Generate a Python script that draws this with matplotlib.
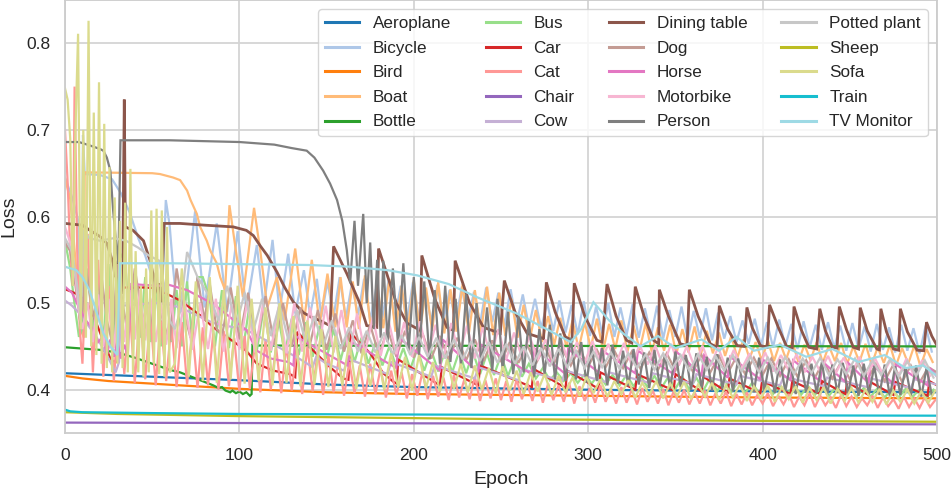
import numpy as np
import matplotlib
matplotlib.use("Agg")
import matplotlib.pyplot as plt

# ---------------- DATA (loss values in thousandths) ----------------
classes = ["Aeroplane", "Bicycle", "Bird", "Boat", "Bottle", "Bus", "Car", "Cat", "Chair", "Cow",
           "Dining table", "Dog", "Horse", "Motorbike", "Person", "Potted plant", "Sheep", "Sofa",
           "Train", "TV Monitor"]

x_ticks = [0, 100, 200, 300, 400, 500]
y_ticks = [0.4, 0.5, 0.6, 0.7, 0.8]

# knot series: (epoch, loss*1000)
aeroplane = [(0, 419), (25, 417), (50, 415), (100, 411), (150, 406), (200, 403), (300, 400), (400, 398), (500, 397)]
bird = [(0, 416), (10, 413), (25, 410), (50, 407), (66, 405), (100, 401), (150, 397), (200, 395), (300, 393), (400, 391), (500, 390)]
chair = [(0, 362), (100, 361.5), (250, 361), (500, 360)]
train = [(0, 377), (3, 375), (10, 374), (50, 373), (100, 372), (250, 371), (500, 370)]
sheep = [(0, 374), (30, 372), (100, 369.5), (250, 366), (400, 364), (500, 363)]
bottle = [(0, 449), (20, 446), (30, 443), (40, 437), (50, 430), (60, 423), (66, 420), (75, 413), (85, 405), (88, 402),
          (90, 403), (92, 399), (94.7, 397), (96, 399), (98, 396), (100, 398), (102, 395), (104, 397), (106, 393),
          (107, 395), (107.5, 453), (108.5, 451), (500, 450)]
tv_monitor = [(0, 542), (6.5, 538), (10, 530), (14, 515), (18, 490), (22, 465), (26, 450), (30, 440), (31.5, 546),
              (60, 546), (100, 545), (140, 544), (163.5, 542), (185, 538), (202, 532), (220, 522), (236, 507),
              (259, 488), (278, 468), (290, 455), (296, 470), (303, 501), (312, 480), (320, 465), (330, 450),
              (340, 462), (350, 448), (365, 458), (375, 445), (385, 461), (395, 445), (410, 452), (425, 438),
              (440, 447), (455, 432), (470, 440), (482, 425), (492, 428), (500, 416)]
car = [(0, 516), (4, 513), (8.4, 509), (14.2, 495), (18, 477), (21.8, 457), (25.6, 438), (27, 433), (30, 432),
       (31.4, 518), (45, 518), (54.5, 517), (56, 513), (62, 507), (66, 503), (77.5, 486), (85, 472), (104, 445),
       (110, 430), (119.5, 422), (129, 418), (132, 414.5), (133.3, 467), (142.4, 445), (152, 426), (159.5, 413),
       (162.5, 411.5), (164, 465), (175, 442), (182.5, 419), (188.4, 409), (190.3, 407), (191, 435), (215, 405),
       (216, 426), (237, 405), (238, 428), (267.7, 403), (268.7, 424), (287, 402), (288, 422), (306, 401),
       (307, 420), (327, 400), (328, 418), (349, 399), (350, 418), (365, 398), (366, 415), (380, 397), (381, 413),
       (398.7, 396), (399.7, 410), (416, 395), (417, 410), (433, 395), (434, 410), (447.5, 395), (448.5, 409),
       (460.7, 394), (461.7, 409), (475, 394), (476, 409), (494.6, 393), (495.6, 410), (500, 405)]
horse = [(0, 519), (4, 512), (8, 495), (12, 480), (16, 470), (19, 455), (22, 462), (24, 440), (26, 458), (28, 438),
         (30, 455), (32, 436), (34, 452), (36, 440), (38, 522), (45, 521), (55, 520), (58, 522), (70, 515),
         (85, 499), (104, 469), (110, 445), (118, 436), (123, 434), (128, 432), (131, 428), (132, 462), (162, 428),
         (164.5, 455), (190, 425), (191.5, 460), (215, 422), (216.5, 458), (237, 420), (238.5, 452), (267.7, 418),
         (269, 448), (287, 418), (288.5, 447), (306, 420), (307.5, 446), (327, 419), (328.5, 445), (349, 418),
         (350.5, 444), (365, 417), (366.5, 440), (380, 414), (381.5, 438), (398.7, 412), (400, 435), (416, 411),
         (417.5, 434), (433, 410), (434.5, 432), (447.5, 409), (449, 431), (460.7, 408), (462, 430), (475, 407),
         (476.5, 429), (494.6, 405), (496, 425), (500, 415)]
cow = [(0, 503), (4, 497), (8.4, 488), (13, 475), (18, 461), (23.5, 442), (27.5, 426), (29, 420), (31, 432),
       (32, 497), (40, 498), (50, 500), (56, 500), (66, 495), (85, 477), (104, 469), (119, 453), (135, 435),
       (142, 426), (144, 438), (150, 430), (160, 422), (162, 436), (185, 418), (187, 432), (210, 415), (212, 428),
       (235, 413), (237, 426), (260, 411), (262, 424), (285, 410), (287, 422), (310, 409), (312, 420), (335, 408),
       (337, 419), (360, 407), (362, 418), (385, 406), (387, 416), (410, 405), (412, 415), (435, 404), (437, 414),
       (460, 403), (462, 413), (485, 402), (487, 412), (500, 406)]
dining_table = [(0, 592), (10, 590), (14.3, 584), (20, 577), (24, 569), (27.6, 546), (28.7, 530), (30.3, 549),
                (31.6, 515), (33, 511), (34, 735), (34.6, 588), (39, 584), (45, 572), (48.8, 549), (51.6, 523),
                (53.5, 511), (54, 523), (55.3, 501), (56.8, 592), (66, 592), (80, 590), (96.5, 588), (104, 584),
                (108, 578), (112, 566), (116, 555), (121.5, 536), (126, 518), (131, 501), (136.7, 489), (141, 484),
                (146, 480), (152, 474), (154, 565.5), (161.6, 534), (169, 500), (173, 474), (178.8, 472),
                (179.8, 563), (190, 500), (196, 477), (203.7, 468.5), (204.6, 555), (212, 505), (219, 472),
                (222.7, 468.5), (223.7, 549), (232, 500), (240, 472), (249.6, 465), (251.9, 526), (258, 490),
                (265, 465), (274.4, 459), (276, 524), (281, 490), (286.9, 461), (290.7, 457), (292, 523),
                (298, 485), (305, 457), (308, 455), (310.8, 522), (316, 485), (322, 457), (325, 454), (327, 519),
                (332, 485), (337.5, 457), (340.4, 453), (340.8, 515.5), (346, 485), (352.8, 453), (356.7, 451),
                (358, 515.5), (363, 485), (370, 453), (373.9, 449), (375.2, 497), (380, 470), (385.4, 451),
                (389.5, 450), (391, 495), (394, 472), (398.7, 451), (402.6, 449), (404, 498), (409, 472),
                (414, 449), (417, 448), (418, 496), (422, 470), (426.5, 449), (431, 447), (432.8, 493.5),
                (436, 468), (440, 449), (442.7, 448), (444, 496), (448, 470), (452, 449), (455, 447), (456, 494.7),
                (460, 468), (465.5, 447), (467, 446), (467.8, 493.5), (471, 467), (475, 447), (478, 445.6),
                (479, 493.5), (483, 467), (488.6, 445.6), (492.4, 445), (494, 478), (497, 462), (500, 451)]

# oscillating series: explicit head knots + alternating extremes read at a regular epoch spacing
person_head = [(0, 686), (8, 686), (14.3, 682), (20, 678), (22, 676), (24, 668), (26, 653), (27.6, 607), (29.7, 561),
               (30.6, 546), (31.8, 688), (60, 688), (100, 686), (120, 683), (130, 679), (138.6, 676), (143, 668),
               (148, 653), (152, 638), (156, 619), (159, 595), (161.6, 561), (163.5, 523), (166, 595), (168, 520),
               (171, 603), (173, 500), (175, 570), (177, 470), (179, 550), (181, 460), (182.5, 549)]
person_osc = (185, 3, [455, 540, 450, 546, 445, 530,
                       440, 525, 435, 515, 430, 520, 432, 505, 428, 510,
                       425, 500, 428, 495, 422, 505, 420, 490, 418, 485,
                       420, 480, 415, 470, 418, 475, 412, 465, 410, 460,
                       412, 455, 408, 450, 410, 448, 405, 452, 407, 445,
                       404, 447, 406, 443, 402, 446, 404, 440, 401, 444,
                       403, 440, 400, 442, 402, 438, 399, 441, 401, 437,
                       398, 436, 400, 434, 397, 437, 399, 432, 396, 435,
                       398, 431, 395, 433, 397, 430, 396, 432, 394, 429,
                       396, 431, 395, 428, 393, 430, 395, 427, 394, 429,
                       392, 427, 394, 426, 393, 428, 392, 425, 394])

cat_head = [(0, 700), (1.5, 640), (3, 560), (4.5, 520), (5.5, 750), (7, 560), (8.5, 470)]
cat_osc = (10, 3, [430, 580, 420, 550, 415, 520, 410, 500, 418, 495,
                   408, 490, 412, 485, 405, 480, 410, 475, 403, 478,
                   406, 470, 402, 472, 405, 465, 400, 468, 404, 460,
                   398, 462, 401, 455, 397, 458, 400, 450, 396, 452,
                   399, 448, 395, 450, 398, 445, 394, 440, 397, 436,
                   393, 432, 396, 428, 392, 430, 395, 425, 391, 422,
                   394, 420, 390, 418, 393, 421, 389, 416, 392, 414,
                   388, 417, 391, 412, 389, 415, 387, 411, 390, 413,
                   388, 410, 386, 412, 389, 408, 387, 410, 385, 407,
                   388, 405, 386, 408, 384, 404, 387, 402, 385, 405,
                   386, 401, 384, 403, 385, 400, 383, 402, 386, 399,
                   384, 401, 382, 398, 385, 400, 383, 397, 384, 399,
                   382, 396, 384, 398, 381, 395, 383, 397, 382, 394,
                   384, 396, 381, 393, 383, 395, 380, 392, 382, 396,
                   380, 393, 382, 391, 379, 394, 381, 392, 380, 390,
                   382, 393, 379, 391, 381, 389, 378, 392, 380, 390,
                   379, 391, 380, 388])

sofa_head = [(0, 748), (1.5, 735), (3, 690), (4.5, 520), (6, 700), (7.5, 811), (9, 470), (10.5, 700), (12, 460),
             (13.5, 826), (15, 450), (16.5, 720), (18, 440), (19.5, 755), (21, 430), (22.5, 707), (24, 425),
             (25.5, 657), (27, 420), (28.5, 622), (30, 430), (31.5, 595), (33, 425), (34.5, 616), (36, 420),
             (37.5, 655), (39, 418), (40.5, 560), (42, 420), (43.5, 520), (45, 415), (46.5, 540), (48, 420),
             (49.5, 607), (51, 430), (52.5, 609), (54, 418), (55.5, 607), (57, 415), (58.5, 588), (60, 420)]
sofa_osc = (63, 4, [430, 540, 415, 525, 410, 530, 408, 515, 412, 520,
                    407, 505, 410, 495, 405, 500, 408, 485, 404, 480,
                    406, 470, 403, 462, 405, 455, 401, 448, 404, 445,
                    400, 442, 403, 438, 399, 440, 402, 432, 398, 435,
                    401, 430, 397, 428, 400, 425, 396, 427, 399, 422,
                    395, 420, 398, 418, 394, 416, 397, 414, 393, 415,
                    396, 412, 392, 410, 395, 411, 391, 408, 394, 410,
                    390, 407, 393, 409, 389, 406, 392, 408, 388, 405,
                    391, 406, 387, 404, 390, 405, 386, 403, 389, 404,
                    385, 402, 388, 403, 384, 401, 387, 402, 385, 400,
                    386, 401, 383, 399, 386, 400, 384, 398, 385, 399])

bicycle_head = [(0, 645), (4.6, 619), (7.5, 596), (9.5, 470), (10.3, 694), (11.3, 649), (20, 648), (27, 643),
                (32, 627), (37, 605), (42, 575), (46, 555), (50, 530), (54, 505), (55.5, 498), (57.8, 619),
                (60, 590), (62, 540), (64, 500), (68, 488), (74.6, 606), (80, 495), (87, 592), (93, 490),
                (99, 583), (104, 492), (110, 567), (114, 495), (119, 573), (123, 490), (128, 557), (132, 488),
                (137, 538), (140.5, 486), (144.4, 528), (147, 484)]
bicycle_osc = (150.5, 3.5, [525, 484, 530, 482, 522, 486, 528, 480, 518, 483,
                            526, 481, 520, 479, 524, 482, 517, 478, 521, 480,
                            515, 477, 519, 479, 513, 476, 518, 478, 512, 474,
                            516, 476, 510, 473, 505, 471, 500, 468, 503, 466,
                            498, 464, 502, 462, 496, 465, 500, 461, 495, 463,
                            499, 460, 494, 462, 497, 459, 492, 461, 496, 458,
                            491, 460, 494, 457, 489, 459, 485, 455, 480, 453,
                            482, 451, 478, 449, 481, 450, 476, 447, 479, 449,
                            475, 446, 478, 448, 474, 445, 477, 447, 473, 444,
                            476, 446, 472, 443, 475, 445, 471, 442, 474, 444])

boat_head = [(0, 644), (3, 620), (6, 550), (9, 470), (10.8, 460), (11.3, 651), (50, 650), (54.5, 649), (62, 645),
             (66, 642), (70, 630), (72, 619), (75.6, 603), (77.5, 588), (81.3, 572), (83.2, 561), (87, 546),
             (89, 530), (91.8, 515), (94.3, 613), (98, 560), (102, 507), (108.4, 610), (112, 560), (116, 495),
             (121.5, 530), (126, 480), (132, 563), (137, 478), (141.5, 550), (146, 475), (150.5, 534), (155, 472)]
boat_osc = (158, 3.5, [530, 472, 525, 470, 532, 468, 522, 471, 528, 467,
                       520, 469, 526, 466, 518, 468, 524, 465, 516, 467,
                       522, 464, 515, 466, 519, 463, 512, 462, 505, 460,
                       498, 458, 492, 455, 485, 452, 483, 449, 480, 447,
                       478, 448, 482, 445, 476, 447, 480, 444, 474, 446,
                       477, 443, 472, 445, 475, 441, 470, 443, 473, 440,
                       468, 442, 466, 439, 462, 437, 458, 436, 455, 434,
                       457, 433, 454, 435, 456, 432, 452, 434, 455, 431,
                       451, 433, 454, 430, 450, 432, 453, 429, 449, 431,
                       452, 428, 448, 430, 451, 427, 447, 432])

potted_head = [(0, 575), (4, 560), (7, 520), (9, 480), (10.5, 584), (14, 575), (20, 572), (28, 575), (35, 572),
               (42, 564), (48, 555), (54, 549), (57, 520), (60, 480), (63, 470), (66, 490), (70, 559), (76, 530),
               (83, 507)]
potted_osc = (88, 5, [480, 520, 472, 512, 468, 505, 462, 498, 458, 492,
                      455, 485, 450, 480, 447, 472, 444, 468, 443, 466,
                      441, 463, 440, 461, 438, 460, 436, 458, 435, 456,
                      433, 455, 431, 453, 430, 450, 428, 448, 427, 447,
                      426, 445, 425, 444, 426, 443, 424, 442, 425, 441,
                      423, 442, 424, 440, 422, 441, 423, 439, 422, 440,
                      421, 438, 420, 437, 419, 438, 418, 436, 419, 437,
                      417, 435, 418, 436, 416, 434, 417, 435, 415, 433,
                      416, 434, 414])

motorbike_head = [(0, 588), (3, 570), (6, 530), (8, 490), (10, 470), (13, 500), (16, 455), (19, 510), (22, 450),
                  (25, 505), (28, 448), (31, 512), (34, 455), (37, 515), (40, 458), (43, 515), (46, 457), (49, 505),
                  (52, 455), (55, 500), (58, 452), (61, 505)]
motorbike_osc = (64, 4.5, [448, 503, 446, 500, 447, 505, 444, 498, 446, 502,
                           443, 499, 445, 496, 442, 500, 444, 495, 441, 497,
                           443, 492, 440, 488, 442, 484, 439, 480, 441, 478,
                           438, 479, 440, 475, 437, 477, 439, 474, 436, 472,
                           438, 470, 435, 466, 437, 462, 434, 458, 432, 457,
                           430, 455, 431, 456, 429, 453, 430, 454, 428, 452,
                           429, 451, 427, 453, 428, 450, 426, 451, 427, 449,
                           425, 446, 424, 442, 422, 443, 421, 440, 422, 441,
                           420, 438, 421, 439, 419, 437, 418, 438, 417, 436,
                           418, 435, 416, 436, 415, 434, 416])

dog_head = [(0, 570), (3, 560), (6, 520), (9, 475), (12, 540), (15, 500), (18, 470), (21, 530), (24, 480),
            (27, 455), (30, 545), (33, 500), (36, 465), (40, 540), (44, 490), (48, 460), (52, 535), (56, 480),
            (60, 455), (64, 540), (68, 490), (72, 460), (76, 530), (80, 480), (83, 522), (87, 470)]
dog_osc = (90, 5, [462, 518, 458, 512, 455, 508, 452, 500, 450, 495,
                   448, 492, 446, 488, 444, 480, 442, 475, 440, 470,
                   438, 468, 437, 465, 436, 462, 435, 460, 434, 458,
                   433, 457, 432, 455, 431, 452, 430, 450, 429, 448,
                   428, 447, 427, 446, 426, 445, 425, 444, 424, 443,
                   423, 442, 422, 441, 421, 440, 420, 439, 419, 438,
                   418, 437, 417, 436, 416, 435, 415, 434, 414, 433,
                   413, 432, 412, 431, 411, 430, 410, 429, 409, 428,
                   408, 426])
dog_tail = [(500, 420)]

bus_head = [(0, 572), (3, 540), (6, 490), (8, 461), (10, 470), (13, 540), (16, 465), (19, 530), (22, 455),
            (25, 545), (28, 460), (31, 550), (34, 560), (37, 480), (40, 520), (43, 460), (46, 530), (49, 455),
            (52, 525), (55, 450), (58, 520), (61, 455), (64, 515), (67, 450), (70, 525), (73, 455), (76, 530),
            (79, 530), (83, 505)]
bus_osc = (86, 4, [450, 515, 448, 508, 446, 500, 445, 495, 443, 488,
                   442, 482, 440, 478, 438, 474, 436, 470, 434, 465,
                   432, 460, 430, 455, 428, 450, 426, 448, 424, 447,
                   422, 446, 421, 445, 420, 444, 419, 443, 418, 442,
                   417, 440, 416, 436, 415, 430, 413, 425, 411, 420,
                   410, 419, 408, 418, 407, 418, 406, 417, 405, 417,
                   404, 416, 403, 416, 402, 415, 401, 415, 400, 414,
                   399, 414, 398, 413, 397, 410, 396, 408, 396, 406,
                   395, 405, 395, 405, 394, 404, 394, 404, 393, 403,
                   393, 403, 392, 402, 392, 402, 391, 401, 391, 401,
                   392, 400, 391, 400])

colors = ["#1f77b4", "#aec7e8", "#ff7f0e", "#ffbb78", "#2ca02c", "#98df8a", "#d62728", "#ff9896",
          "#9467bd", "#c5b0d5", "#8c564b", "#c49c94", "#e377c2", "#f7b6d2", "#7f7f7f", "#c7c7c7",
          "#bcbd22", "#dbdb8d", "#17becf", "#9edae5"]


def knots(pairs):
    a = np.array(pairs, dtype=float)
    return a[:, 0], a[:, 1] / 1000.0


def with_osc(head, osc, tail=()):
    hx, hy = knots(head)
    x0, step, vals = osc
    ox = x0 + step * np.arange(len(vals))
    oy = np.array(vals, dtype=float) / 1000.0
    xs = [hx, ox]
    ys = [hy, oy]
    if len(tail):
        tx, ty = knots(tail)
        xs.append(tx)
        ys.append(ty)
    return np.concatenate(xs), np.concatenate(ys)


series = {
    "Aeroplane": knots(aeroplane),
    "Bicycle": with_osc(bicycle_head, bicycle_osc),
    "Bird": knots(bird),
    "Boat": with_osc(boat_head, boat_osc),
    "Bottle": knots(bottle),
    "Bus": with_osc(bus_head, bus_osc),
    "Car": knots(car),
    "Cat": with_osc(cat_head, cat_osc),
    "Chair": knots(chair),
    "Cow": knots(cow),
    "Dining table": knots(dining_table),
    "Dog": with_osc(dog_head, dog_osc, dog_tail),
    "Horse": knots(horse),
    "Motorbike": with_osc(motorbike_head, motorbike_osc),
    "Person": with_osc(person_head, person_osc),
    "Potted plant": with_osc(potted_head, potted_osc),
    "Sheep": knots(sheep),
    "Sofa": with_osc(sofa_head, sofa_osc),
    "Train": knots(train),
    "TV Monitor": knots(tv_monitor),
}

# ---------------- PLOT ----------------
plt.rcParams['font.family'] = ['Liberation Sans', 'DejaVu Sans']
fig = plt.figure(figsize=(9.51, 4.90), dpi=100)
ax = fig.add_axes([65 / 951, (490 - 433) / 490, 872 / 951, 433 / 490])
ax.set_facecolor("white")

for name, col in zip(classes, colors):
    x, y = series[name]
    lw = 2.0 if name == "Dining table" else 1.6
    ax.plot(x, y, color=col, lw=lw, label=name, solid_joinstyle="miter")

ax.set_xlim(0, 500)
ax.set_ylim(0.35, 0.85)
ax.set_xticks(x_ticks)
ax.set_yticks(y_ticks)
ax.set_xticklabels([str(t) for t in x_ticks])
ax.set_yticklabels([f"{t:.1f}" for t in y_ticks])
ax.tick_params(axis="both", length=0, labelsize=12.5, pad=10.5, colors="#262626")
ax.grid(True, color="#d4d4d4", lw=1.3)
ax.set_axisbelow(True)
for s in ax.spines.values():
    s.set_color("#cccccc")
    s.set_linewidth(1.3)
ax.set_xlabel("Epoch", fontsize=14, color="#262626", labelpad=6)
ax.set_ylabel("Loss", fontsize=14, color="#262626", labelpad=6)

leg = ax.legend(ncol=4, loc="upper right", fontsize=12.3,
                frameon=True, fancybox=True, framealpha=0.8, edgecolor="#cccccc",
                handlelength=2.0, handletextpad=0.8, columnspacing=2.0, labelspacing=0.56,
                borderpad=0.4, borderaxespad=0.55)
for t in leg.get_texts():
    t.set_color("#262626")
for l in leg.get_lines():
    l.set_linewidth(2.2)

fig.savefig("out.png", dpi=100)
